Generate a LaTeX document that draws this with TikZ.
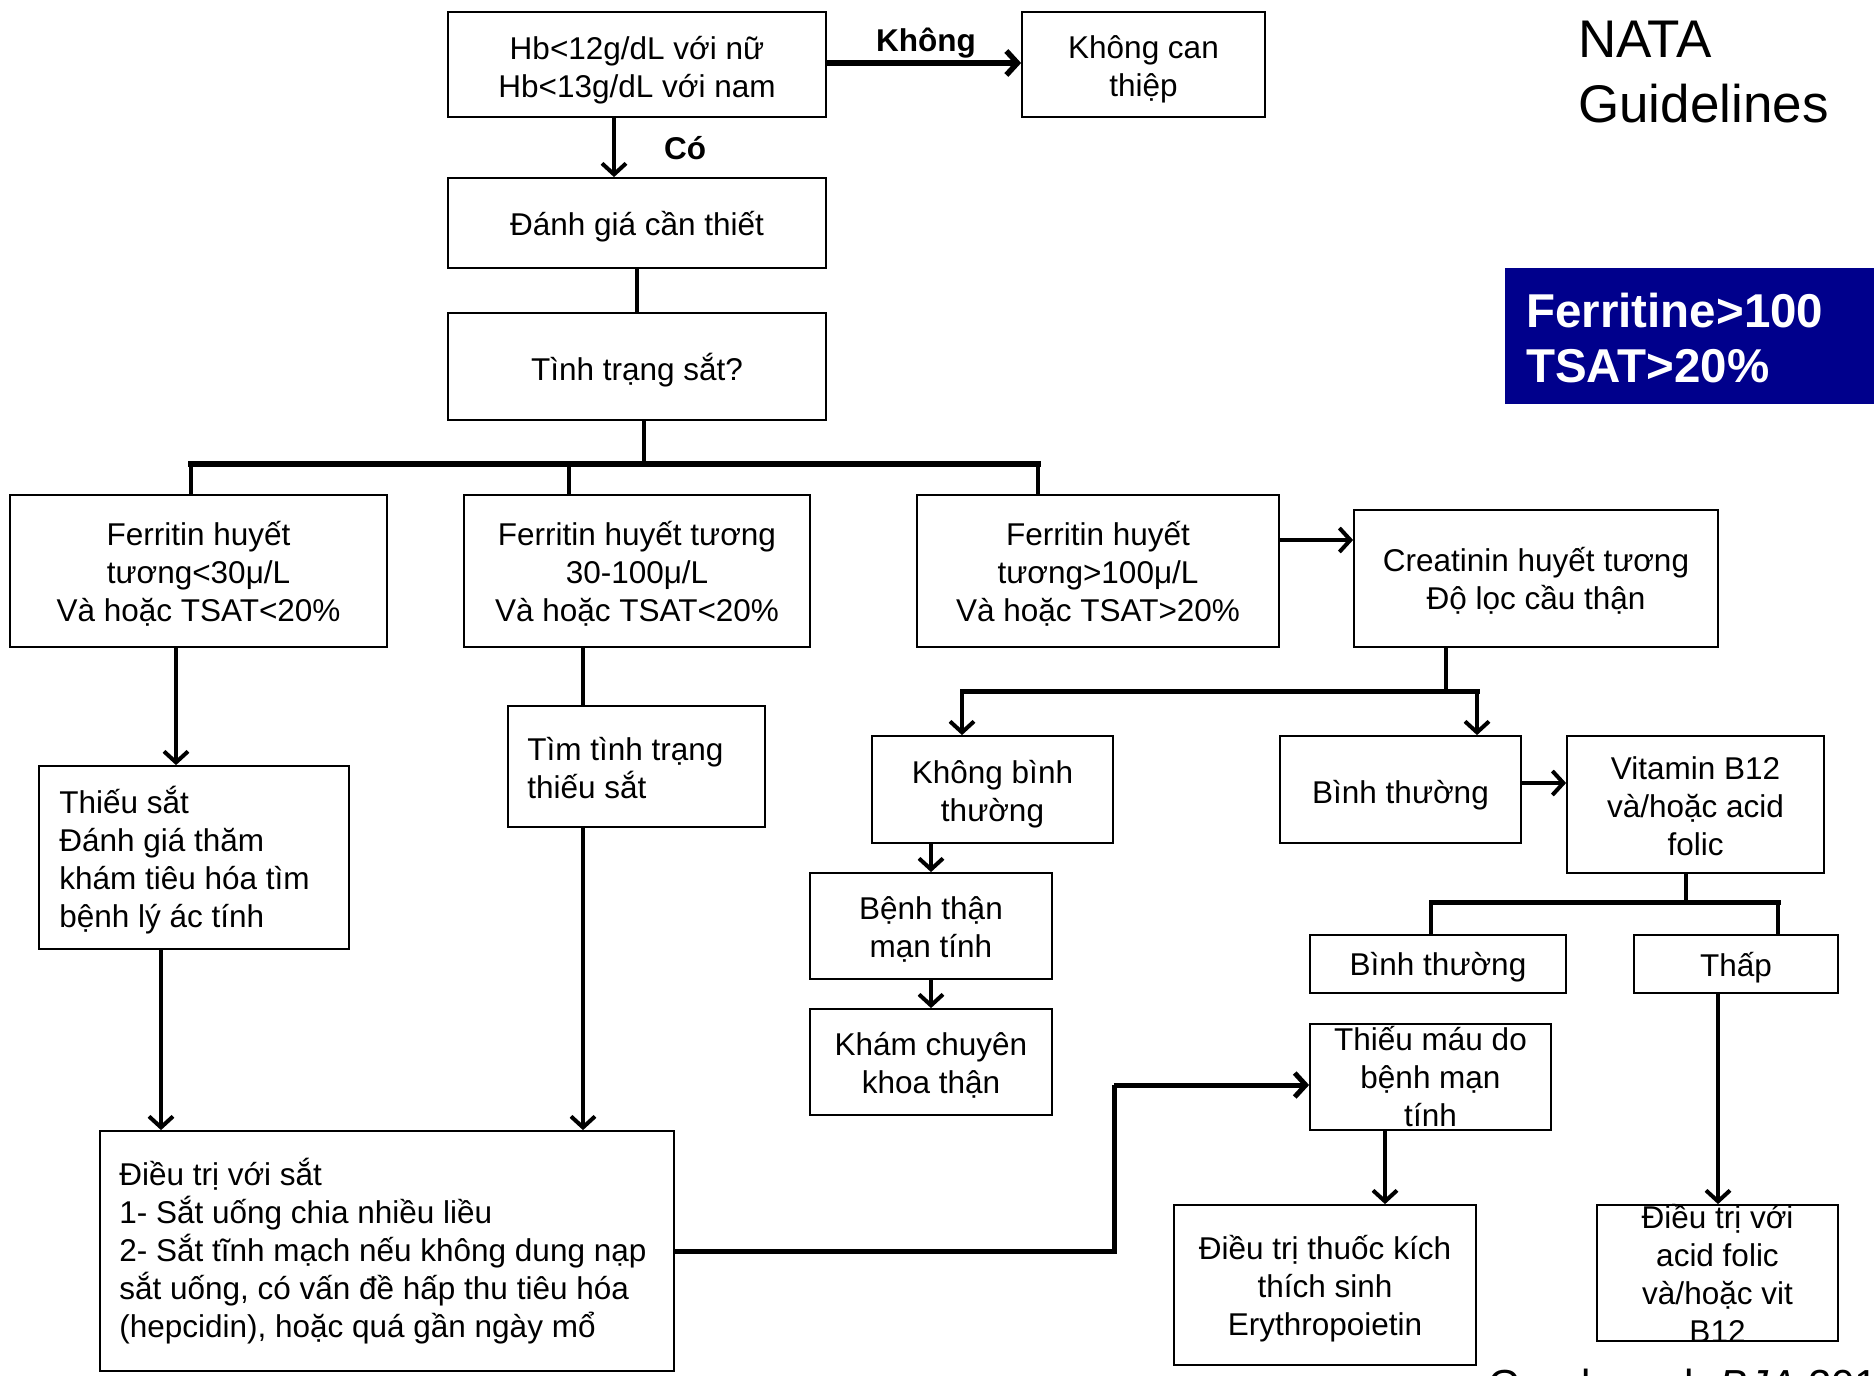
\documentclass[tikz,border=0pt]{standalone}
\usepackage{fontspec}
\setmainfont{Liberation Sans}
\usetikzlibrary{arrows.meta}
\definecolor{navy}{RGB}{0,0,140}
% box with centred text: name, cx, cy, width, height, downward text offset, text
\newcommand{\bxc}[7]{%
  \node[box,minimum width=#4,minimum height=#5] (#1) at (#2,#3) {};
  \node[txt,align=center] (#1-t) at ([yshift=-#6pt]#1.center) {#7};}
% box with left-aligned text: name, cx, cy, width, height, left pad, downward offset, text
\newcommand{\bxl}[8]{%
  \node[box,minimum width=#4,minimum height=#5] (#1) at (#2,#3) {};
  \node[txt,align=left,anchor=west] (#1-t) at ([xshift=#6pt,yshift=-#7pt]#1.west) {#8};}
\begin{document}
\begin{tikzpicture}[x=1pt,y=-1pt,
  box/.style={draw=black,line width=1.8pt,fill=white,inner sep=0pt},
  txt/.style={inner sep=0pt,font=\fontsize{31.5}{38}\selectfont},
  lbl/.style={inner sep=0pt,font=\fontsize{31.5}{38}\selectfont\bfseries},
  conn/.style={line width=4pt},
  arr/.style={line width=4pt,-{Straight Barb[length=11pt,width=24pt]}},
  busline/.style={line width=6pt,line cap=rect}]
\clip (0,0) rectangle (1874,1376);
\fill[white] (0,0) rectangle (1874,1376);

% boxes
\bxc{hb}{637}{64.5}{378}{105}{5.5}{Hb<12g/dL với nữ\\Hb<13g/dL với nam}
\bxc{khong}{1143.5}{64.5}{243}{105}{4.5}{Không can\\thiệp}
\bxc{danh}{637}{223}{378}{90}{3.5}{Đánh giá cần thiết}
\bxc{tinh}{637}{366.5}{378}{107}{3.5}{Tình trạng sắt?}
\bxc{f1}{198.5}{571}{377}{152}{2.5}{Ferritin huyết\\tương<30μ/L\\Và hoặc TSAT<20\%}
\bxc{f2}{637}{571}{346}{152}{2.5}{Ferritin huyết tương\\30-100μ/L\\Và hoặc TSAT<20\%}
\bxc{f3}{1098}{571}{362}{152}{2.5}{Ferritin huyết\\tương>100μ/L\\Và hoặc TSAT>20\%}
\bxc{creat}{1536}{578.5}{364}{137}{2.5}{Creatinin huyết tương\\Độ lọc cầu thận}
\bxc{kbt}{992.5}{789.5}{241}{107}{5}{Không bình\\thường}
\bxc{bt1}{1400.5}{789.5}{241}{107}{5.5}{Bình thường}
\bxc{vit}{1695.5}{804.5}{257}{137}{2}{Vitamin B12\\và/hoặc acid\\folic}
\bxc{bt2}{1438}{964}{256}{58}{3.5}{Bình thường}
\bxc{thap}{1736}{964}{204}{58}{3.5}{Thấp}
\bxc{dtfol}{1717.5}{1273}{241}{136}{0}{Điều trị với\\acid folic\\và/hoặc vit\\B12}
\bxc{btm}{931}{926}{242}{106}{3}{Bệnh thận\\mạn tính}
\bxc{kham}{931}{1062}{242}{106}{3}{Khám chuyên\\khoa thận}
\bxc{tmau}{1430.5}{1077}{241}{106}{0}{Thiếu máu do\\bệnh mạn\\tính}
\bxc{epo}{1325}{1285}{302}{160}{3.5}{Điều trị thuốc kích\\thích sinh\\Erythropoietin}
\bxl{dts}{387}{1251}{574}{240}{20}{0.5}{Điều trị với sắt\\1- Sắt uống chia nhiều liều\\2- Sắt tĩnh mạch nếu không dung nạp\\sắt uống, có vấn đề hấp thu tiêu hóa\\(hepcidin), hoặc quá gần ngày mổ}
\bxl{ts}{194}{857.5}{310}{183}{21}{3}{Thiếu sắt\\Đánh giá thăm\\khám tiêu hóa tìm\\bệnh lý ác tính}
\bxl{tim}{636.5}{766.5}{257}{121}{20}{2}{Tìm tình trạng\\thiếu sắt}

% title and blue box
\node[inner sep=0pt,anchor=north west,align=left,font=\fontsize{53}{65}\selectfont] (nata) at (1578,21) {NATA\\Guidelines};
\fill[navy] (1505,268) rectangle (1874,404);
\node[inner sep=0pt,anchor=west,align=left,text=white,font=\fontsize{47.5}{55}\selectfont\bfseries] (ferr) at (1526,338) {Ferritine>100\\TSAT>20\%};
\node[inner sep=0pt,anchor=base west,font=\fontsize{42}{50}\selectfont] (ref) at (1488,1399) {Goodnough \textit{BJA} 2011};

% coordinates
\coordinate (yK) at (0,63);
\coordinate (yF3) at (0,540);
\coordinate (yBT) at (0,783);
\coordinate (busT) at (644,464);
\coordinate (busL) at (191,464);
\coordinate (bus2) at (569,464);
\coordinate (busR) at (1038,464);
\coordinate (cb) at (1446,691);
\coordinate (cbL) at (962,691);
\coordinate (cbR) at (1477,691);
\coordinate (vb) at (1686,902);
\coordinate (vbL) at (1431,902);
\coordinate (vbR) at (1778,902);
\coordinate (elbow1) at (1114,1251);
\coordinate (elbow2) at (1114,1085);

% connectors
\draw[arr,line width=5.5pt] (hb.east |- yK) -- (khong.west |- yK);
\node[lbl] (khonglbl) at (926,43) {Không};
\draw[arr] ([xshift=-23pt]hb.south) -- ([xshift=-23pt]danh.north);
\node[lbl] (colbl) at (685,148) {Có};
\draw[conn] (danh.south) -- (tinh.north);
\draw[conn] (tinh.south -| busT) -- (busT);
\draw[busline] (busL) -- (busR);
\draw[line width=3.5pt] (busL) -- (busL |- f1.north);
\draw[line width=3.5pt] (bus2) -- (bus2 |- f2.north);
\draw[line width=3.5pt] (busR) -- (busR |- f3.north);
\draw[arr] (f3.east |- yF3) -- (creat.west |- yF3);
\draw[conn] (creat.south -| cb) -- (cb);
\draw[line width=5pt,line cap=rect] (cbL) -- (cbR);
\draw[arr] (cbL) -- (cbL |- kbt.north);
\draw[arr] (cbR) -- (cbR |- bt1.north);
\draw[arr] (bt1.east |- yBT) -- (vit.west |- yBT);
\draw[conn] (vit.south -| vb) -- (vb);
\draw[line width=5pt,line cap=rect] (vbL) -- (vbR);
\draw[conn] (vbL) -- (vbL |- bt2.north);
\draw[conn] (vbR) -- (vbR |- thap.north);
\draw[arr] ([xshift=-18pt]thap.south) -- ([xshift=-18pt]thap.south |- dtfol.north);
\draw[arr] (kbt.south -| btm.north) -- (btm.north);
\draw[arr] (btm.south) -- (kham.north);
\draw[line width=5pt] (dts.east |- elbow1) -- (elbow1) -- (elbow2);
\draw[arr,line width=5pt] (elbow2) -- (tmau.west |- elbow2);
\draw[arr] ([xshift=-45.5pt]tmau.south) -- ([xshift=-45.5pt]tmau.south |- epo.north);
\draw[arr] ([xshift=-22.5pt]f1.south) -- ([xshift=-22.5pt]f1.south |- ts.north);
\draw[arr] ([xshift=-33pt]ts.south) -- ([xshift=-33pt]ts.south |- dts.north);
\draw[conn] ([xshift=-54pt]f2.south) -- ([xshift=-54pt]f2.south |- tim.north);
\draw[arr] ([xshift=-53.5pt]tim.south) -- ([xshift=-53.5pt]tim.south |- dts.north);
\end{tikzpicture}
\end{document}
